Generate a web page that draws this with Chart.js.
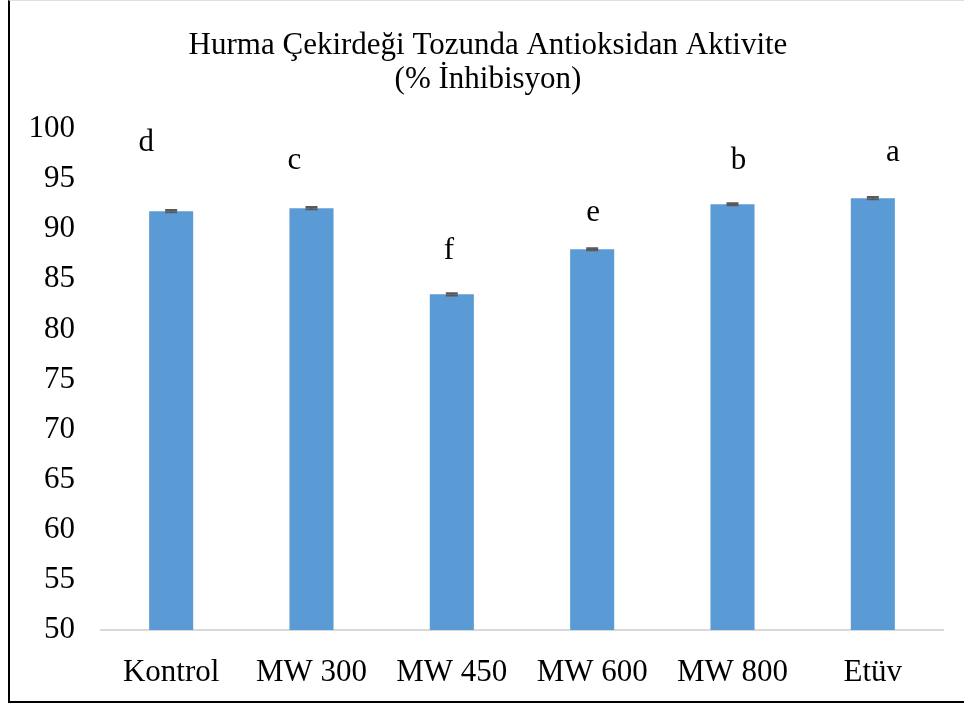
<!DOCTYPE html>
<html>
<head>
<meta charset="utf-8">
<script src="https://cdn.jsdelivr.net/npm/chart.js@4"></script>
<style>
  html, body { margin: 0; padding: 0; background: #fff; }
  #frame {
    position: absolute; left: 8px; top: 0; width: 954px; height: 700px;
    border-left: 2px solid #000; border-bottom: 2px solid #000; border-top: 1px solid #e0e0e0;
  }
  #chart { display: block; }
</style>
</head>
<body>
<div id="frame"><canvas id="chart" width="954" height="700"></canvas></div>
<script>
var categories = ['Kontrol', 'MW 300', 'MW 450', 'MW 600', 'MW 800', 'Etüv'];
var inhibition = [91.8, 92.1, 83.5, 88.0, 92.5, 93.1];
var errors = [0.12, 0.12, 0.12, 0.1, 0.1, 0.12];
var groupLetters = ['d', 'c', 'f', 'e', 'b', 'a'];
var yTicks = [50, 55, 60, 65, 70, 75, 80, 85, 90, 95, 100];

var serif = "'Liberation Serif', 'Times New Roman', serif";

// letters sit above each bar, offsets in px from the bar top / centre
var letterOffsets = [[-25, 68], [-17, 47], [-3, 43], [1, 36], [6, 43], [20, 45]];

var titlePlugin = {
  id: 'twoLineTitle',
  afterDraw: function(chart) {
    var ctx = chart.ctx;
    ctx.save();
    ctx.fillStyle = '#000';
    ctx.font = '31px ' + serif;
    ctx.textAlign = 'center';
    ctx.textBaseline = 'middle';
    ctx.fillText('Hurma Çekirdeği Tozunda Antioksidan Aktivite', 478, 45);
    ctx.fillText('(% İnhibisyon)', 478, 79);
    ctx.restore();
  }
};

var errorBarPlugin = {
  id: 'errorBars',
  afterDatasetsDraw: function(chart) {
    var ctx = chart.ctx;
    var y = chart.scales.y;
    var meta = chart.getDatasetMeta(0);
    ctx.save();
    ctx.strokeStyle = '#595959';
    ctx.lineWidth = 2;
    meta.data.forEach(function(bar, i) {
      var top = y.getPixelForValue(inhibition[i] + errors[i]);
      var bot = y.getPixelForValue(inhibition[i] - errors[i]);
      ctx.beginPath();
      ctx.moveTo(bar.x, top); ctx.lineTo(bar.x, bot);
      ctx.moveTo(bar.x - 6, top); ctx.lineTo(bar.x + 6, top);
      ctx.moveTo(bar.x - 6, bot); ctx.lineTo(bar.x + 6, bot);
      ctx.stroke();

      ctx.fillStyle = '#000';
      ctx.font = '31px ' + serif;
      ctx.textAlign = 'center';
      ctx.textBaseline = 'middle';
      ctx.fillText(groupLetters[i], bar.x + letterOffsets[i][0], bar.y - letterOffsets[i][1]);
    });
    ctx.restore();
  }
};

new Chart(document.getElementById('chart').getContext('2d'), {
  type: 'bar',
  data: {
    labels: categories,
    datasets: [{
      label: '% İnhibisyon',
      data: inhibition,
      backgroundColor: '#5B9BD5',
      categoryPercentage: 1,
      barPercentage: 0.314
    }]
  },
  options: {
    responsive: false,
    animation: false,
    layout: { padding: { top: 128, right: 21, left: 0, bottom: 0 } },
    plugins: {
      legend: { display: false },
      title: { display: false },
      tooltip: { enabled: false }
    },
    scales: {
      x: {
        grid: { display: false, drawTicks: false },
        border: { display: true, color: '#d9d9d9', width: 2 },
        ticks: { color: '#000', font: { family: serif, size: 31 }, padding: 24, maxRotation: 0 },
        afterFit: function(scale) { scale.height = 71; }
      },
      y: {
        min: 50,
        max: 100,
        grid: { display: false, drawTicks: false },
        border: { display: false },
        afterBuildTicks: function(scale) { scale.ticks = yTicks.map(function(v) { return { value: v }; }); },
        ticks: { color: '#000', font: { family: serif, size: 31 }, padding: 26 },
        afterFit: function(scale) { scale.width = 91; }
      }
    }
  },
  plugins: [titlePlugin, errorBarPlugin]
});
</script>
</body>
</html>
